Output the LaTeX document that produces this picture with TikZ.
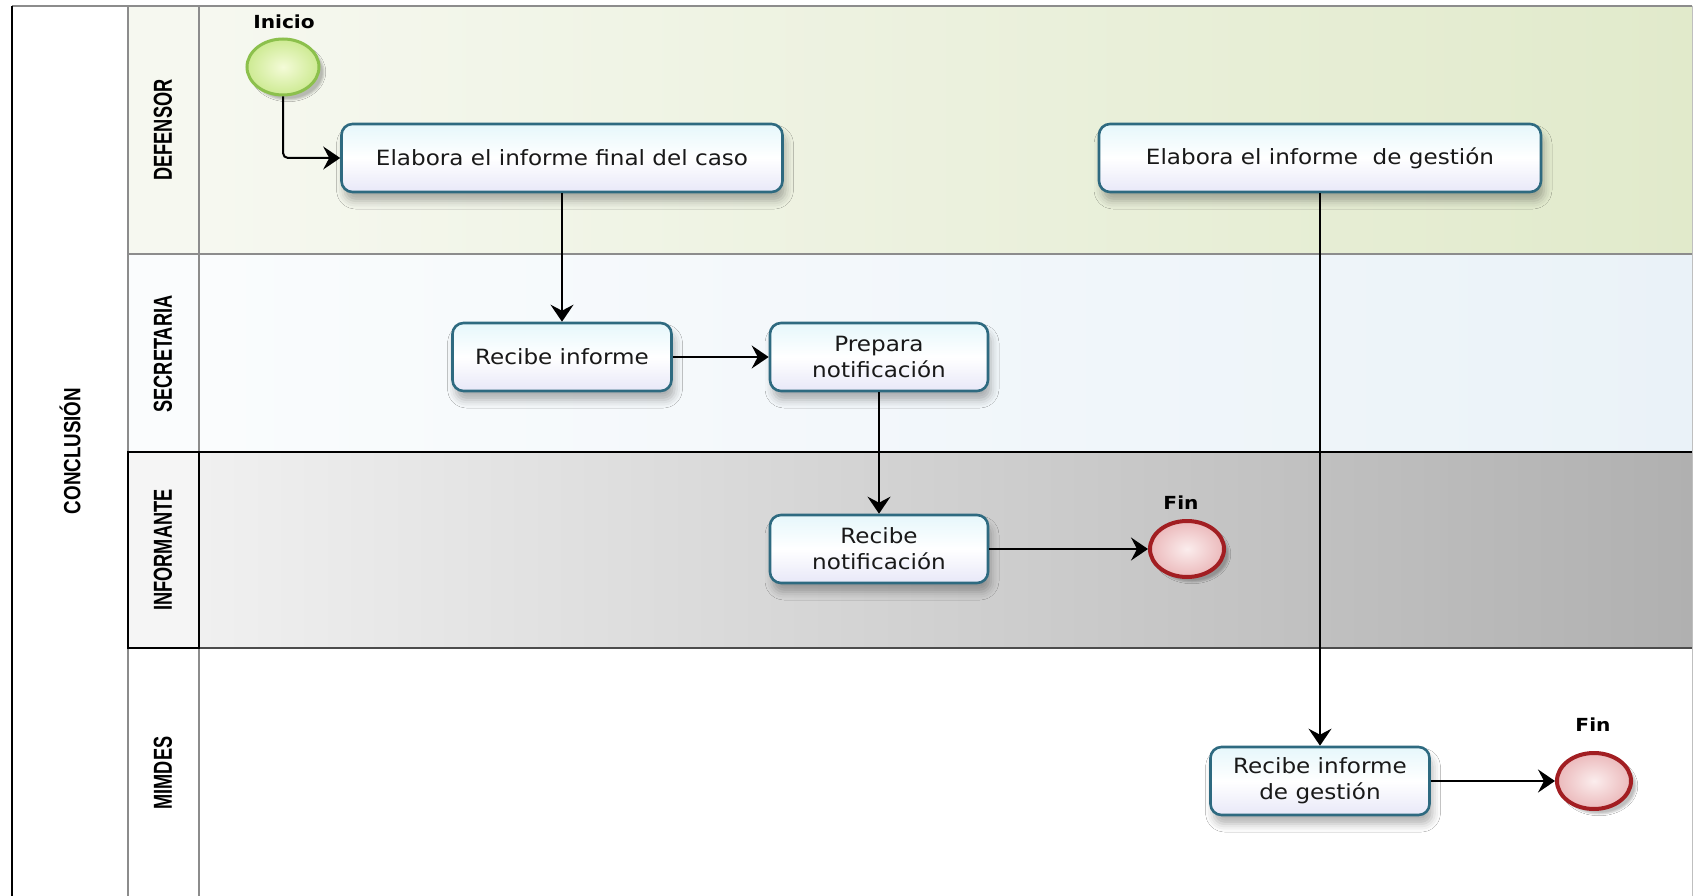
\documentclass[tikz,border=0pt]{standalone}
\usepackage{fontspec}
\usetikzlibrary{arrows.meta,shapes.geometric,shadows.blur}

\newfontfamily\taskfont[FakeStretch=1.1]{DejaVu Sans}
\newfontfamily\eventfont[FakeStretch=1.12]{DejaVu Sans}
\newfontfamily\lanefont[FakeStretch=0.7]{Liberation Sans}
\newfontfamily\poolfont[FakeStretch=0.8]{Liberation Sans}

\definecolor{taskline}{HTML}{2E6A80}
\definecolor{taskTop}{HTML}{E6F7FB}
\definecolor{taskBot}{HTML}{E8E8F8}
\definecolor{startline}{HTML}{8CC04C}
\definecolor{startIn}{HTML}{F4FBD8}
\definecolor{startOut}{HTML}{CDEA92}
\definecolor{endline}{HTML}{A21E22}
\definecolor{endIn}{HTML}{FBEDED}
\definecolor{endOut}{HTML}{EBB9BB}
\definecolor{defL}{HTML}{F6F8F0}
\definecolor{defR}{HTML}{E1EACB}
\definecolor{secL}{HTML}{FAFCFD}
\definecolor{secR}{HTML}{EAF2F8}
\definecolor{infL}{HTML}{F0F0F0}
\definecolor{infR}{HTML}{B0B0B0}

\begin{document}
\begin{tikzpicture}[x=1pt,y=-1pt,
  lanerule/.style={draw=black!45, line width=1.3pt},
  task/.style={draw=taskline, line width=2.6pt, rounded corners=11pt,
    top color=taskTop, bottom color=taskBot, middle color=white,
    inner sep=0pt, minimum height=68pt, align=center, text=black!90,
    font=\taskfont\fontsize{21}{26}\selectfont,
    blur shadow={shadow xshift=3pt, shadow yshift=-9pt,
      shadow blur radius=8pt, shadow opacity=30}},
  startev/.style={ellipse, draw=startline, line width=3pt,
    inner color=startIn, outer color=startOut,
    minimum width=72pt, minimum height=56pt, inner sep=0pt,
    blur shadow={shadow xshift=5pt, shadow yshift=-5pt, shadow opacity=25}},
  endev/.style={ellipse, draw=endline, line width=4pt,
    inner color=endIn, outer color=endOut,
    minimum width=74pt, minimum height=56pt, inner sep=0pt,
    blur shadow={shadow xshift=5pt, shadow yshift=-5pt, shadow opacity=25}},
  evlabel/.style={font=\eventfont\bfseries\fontsize{18}{20}\selectfont},
  flow/.style={draw=black, line width=2pt,
    -{Stealth[length=17pt,width=23pt,inset=6pt]}},
  lanelabel/.style={rotate=90, font=\lanefont\bfseries\fontsize{26}{28}\selectfont},
  poollabel/.style={rotate=90, font=\poolfont\bfseries\fontsize{23.5}{26}\selectfont},
]
\useasboundingbox (0,0) rectangle (1701,896);
\fill[white] (0,0) rectangle (1701,896);

% lane backgrounds
\fill[defL] (128,6) rectangle (199,254);
\shade[left color=defL, right color=defR] (199,6) rectangle (1692,254);
\fill[secL] (128,254) rectangle (199,452);
\shade[left color=secL, right color=secR] (199,254) rectangle (1692,452);
\fill[black!4] (128,452) rectangle (199,648);
\shade[left color=infL, right color=infR] (199,452) rectangle (1692,648);

% pool and lane rules
\draw[lanerule] (12,6) -- (1692,6);
\draw[draw=black!25, line width=1pt] (1692,6) -- (1692,896);
\draw[lanerule] (128,254) -- (1692,254);
\draw[lanerule] (128,6) -- (128,896);
\draw[lanerule] (199,6) -- (199,896);
\draw[black, line width=1.6pt] (128,452) -- (1692,452);
\draw[black!70, line width=1.6pt] (128,648) -- (1692,648);
\draw[black, line width=1.6pt] (128,452) rectangle (199,648);
\draw[black, line width=2pt] (12,6) -- (12,896);

% pool and lane titles
\node[poollabel] (pool) at (70,451) {CONCLUSIÓN};
\node[lanelabel] (ldef) at (163,130) {DEFENSOR};
\node[lanelabel] (lsec) at (163,354) {SECRETARIA};
\node[lanelabel] (linf) at (163,550) {INFORMANTE};
\node[lanelabel] (lmim) at (163,773) {MIMDES};

% events
\node[startev] (ini) at (283,67) {};
\node[evlabel] (iniLab) at (284,22) {Inicio};
\node[endev] (fin1) at (1187,549) {};
\node[evlabel] (fin1Lab) at (1181,503) {Fin};
\node[endev] (fin2) at (1594,781) {};
\node[evlabel] (fin2Lab) at (1593,725) {Fin};

% tasks
\node[task, minimum width=441pt] (t1) at (562,158) {Elabora el informe final del caso};
\node[task, minimum width=219pt] (t2) at (562,357) {Recibe informe};
\node[task, minimum width=218pt] (t3) at (879,357) {Prepara\\notificación};
\node[task, minimum width=218pt] (t4) at (879,549) {Recibe\\notificación};
\node[task, minimum width=442pt] (t5) at (1320,158) {Elabora el informe\ \ de gestión};
\node[task, minimum width=219pt] (t6) at (1320,781) {Recibe informe\\de gestión};

% sequence flows
\draw[flow, rounded corners=5pt] (ini.south) |- (t1.west);
\draw[flow] (t1.south) -- (t2.north);
\draw[flow] (t2.east) -- (t3.west);
\draw[flow] (t3.south) -- (t4.north);
\draw[flow] (t4.east) -- (fin1.west);
\draw[flow] (t5.south) -- (t6.north);
\draw[flow] (t6.east) -- (fin2.west);
\end{tikzpicture}
\end{document}
